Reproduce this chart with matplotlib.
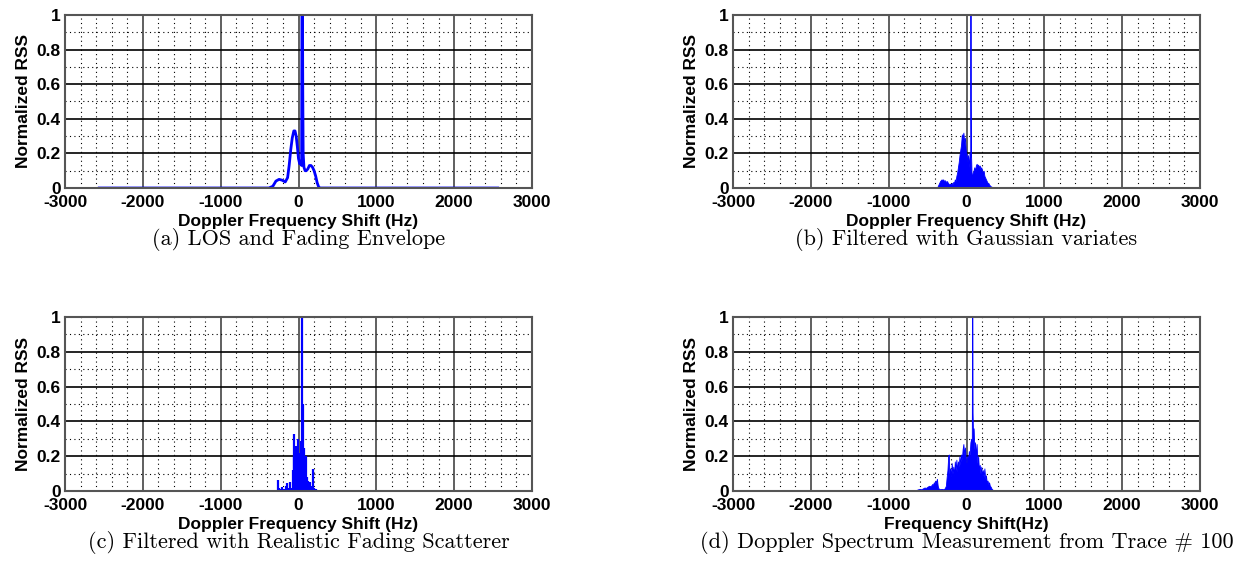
import matplotlib
matplotlib.use("Agg")
import matplotlib.pyplot as plt
import numpy as np
from matplotlib.ticker import MultipleLocator

# ---- data (Hz, normalized RSS) ----
freq_a = [-2560, -380, -330, -290, -250, -210, -170, -140, -120, -100, -80, -60, -45,
          -30, -15, 0, 15, 30, 40, 45, 50, 55, 60, 70, 85, 100, 120, 140, 160, 180,
          200, 220, 240, 260, 280, 2560]
rss_a = [0, 0, 0.01, 0.04, 0.05, 0.045, 0.035, 0.06, 0.13, 0.22, 0.29, 0.33, 0.33,
         0.30, 0.24, 0.17, 0.14, 0.15, 0.13, 1.2, 1.2, 0.55, 0.2, 0.12, 0.10, 0.10,
         0.11, 0.13, 0.13, 0.12, 0.10, 0.07, 0.03, 0.005, 0, 0]

freq_b = [-380, -370, -360, -350, -340, -330, -320, -310, -300, -290, -280, -270, -260,
          -250, -240, -230, -220, -210, -200, -190, -180, -170, -160, -150, -140, -130,
          -120, -110, -100, -90, -80, -70, -60, -50, -40, -30, -20, -10, 0, 10, 20, 30,
          40, 48, 50, 52, 54, 58, 65, 70, 80, 90, 100, 110, 120, 130, 140, 150, 160,
          170, 180, 190, 200, 210, 220, 230, 240, 250, 260, 270, 280, 290, 300, 310,
          320, 330, 340]
rss_b = [0, 0.01, 0.02, 0.03, 0.04, 0.045, 0.05, 0.045, 0.05, 0.04, 0.045, 0.04, 0.035,
         0.04, 0.03, 0.025, 0.02, 0.025, 0.02, 0.03, 0.02, 0.035, 0.03, 0.05, 0.04, 0.07,
         0.09, 0.12, 0.15, 0.19, 0.22, 0.25, 0.31, 0.29, 0.32, 0.27, 0.29, 0.22, 0.2,
         0.15, 0.19, 0.12, 0.2, 0.18, 1.2, 1.2, 0.5, 0.2, 0.08, 0.06, 0.09, 0.1, 0.12,
         0.1, 0.13, 0.14, 0.13, 0.135, 0.12, 0.13, 0.11, 0.12, 0.1, 0.09, 0.1, 0.07,
         0.06, 0.05, 0.04, 0.03, 0.03, 0.02, 0.015, 0.01, 0.008, 0.005, 0.0]

freq_c = [-262, -250, -235, -215, -190, -160, -150, -120, -105, -90, -75, -62, -54, -45,
          -32, -22, -10, 0, 10, 20, 28, 38, 50, 58, 66, 75, 85, 97, 110, 127, 148, 165,
          191, 205, 220]
rss_c = [0.065, 0.02, 0.01, 0.025, 0.01, 0.03, 0.045, 0.02, 0.05, 0.015, 0.12, 0.2, 0.33,
         0.1, 0.26, 0.15, 0.30, 0.1, 0.22, 0.12, 0.29, 0.18, 1.2, 0.5, 0.15, 0.245, 0.1,
         0.2, 0.08, 0.06, 0.05, 0.03, 0.125, 0.02, 0.01]
base_c = [-270, 270]

freq_d = [-700, -650, -620, -600, -580, -560, -540, -520, -500, -480, -460, -440, -430,
          -420, -410, -400, -390, -380, -370, -360, -340, -320, -300, -280, -265, -255,
          -245, -235, -228, -220, -210, -200, -190, -180, -170, -160, -150, -140, -130,
          -120, -110, -100, -90, -80, -70, -60, -50, -40, -30, -20, -10, 0, 10, 20, 30,
          40, 50, 60, 68, 72, 75, 78, 85, 92, 100, 110, 120, 130, 140, 150, 160, 170,
          180, 190, 200, 210, 220, 230, 240, 250, 260, 270, 280, 290, 300, 310, 320,
          330, 340, 350]
rss_d = [0, 0.005, 0.01, 0.012, 0.01, 0.015, 0.02, 0.018, 0.025, 0.03, 0.028, 0.04, 0.035,
         0.05, 0.045, 0.06, 0.05, 0.07, 0.03, 0.015, 0.01, 0.012, 0.01, 0.015, 0.03, 0.08,
         0.12, 0.2, 0.21, 0.1, 0.13, 0.08, 0.16, 0.1, 0.14, 0.09, 0.17, 0.12, 0.18, 0.11,
         0.17, 0.14, 0.2, 0.15, 0.21, 0.18, 0.24, 0.27, 0.21, 0.25, 0.19, 0.16, 0.2, 0.18,
         0.23, 0.2, 0.28, 0.3, 0.25, 1.2, 1.2, 0.45, 0.3, 0.36, 0.24, 0.28, 0.2, 0.27,
         0.16, 0.2, 0.12, 0.15, 0.1, 0.14, 0.09, 0.12, 0.08, 0.13, 0.07, 0.09, 0.05, 0.06,
         0.04, 0.05, 0.03, 0.025, 0.015, 0.01, 0.005, 0]
base_d = [-2720, 2400]

xticks = [-3000, -2000, -1000, 0, 1000, 2000, 3000]
yticks = [0, 0.2, 0.4, 0.6, 0.8, 1]
ytick_labels = ["0", "0.2", "0.4", "0.6", "0.8", "1"]

captions = ["(a) LOS and Fading Envelope",
            "(b) Filtered with Gaussian variates",
            "(c) Filtered with Realistic Fading Scatterer",
            "(d) Doppler Spectrum Measurement from Trace # 100"]
xlabels = ["Doppler Frequency Shift (Hz)", "Doppler Frequency Shift (Hz)",
           "Doppler Frequency Shift (Hz)", "Frequency Shift(Hz)"]

BLUE = "#0000ff"
TICKFONT = dict(family="Liberation Sans", weight="bold", size=12.5)

fig = plt.figure(figsize=(12.6, 5.72), dpi=100)

# axes boxes in pixels: left, top, right, bottom
boxes = [(65, 15, 532, 188), (733, 15, 1200, 188),
         (65, 317, 532, 491), (733, 317, 1200, 491)]
axes = []
for (l, t, r, b) in boxes:
    ax = fig.add_axes([l / 1260, 1 - b / 572, (r - l) / 1260, (b - t) / 572])
    axes.append(ax)


def style(ax, xlabel, caption):
    ax.set_xlim(-3000, 3000)
    ax.set_ylim(0, 1)
    ax.set_xticks(xticks)
    ax.set_xticklabels([str(v) for v in xticks], fontdict=TICKFONT)
    ax.set_yticks(yticks)
    ax.set_yticklabels(ytick_labels, fontdict=TICKFONT)
    ax.xaxis.set_minor_locator(MultipleLocator(200))
    ax.yaxis.set_minor_locator(MultipleLocator(0.1))
    ax.tick_params(which="both", direction="in", length=0)
    ax.tick_params(axis="x", pad=5)
    ax.tick_params(axis="y", pad=3)
    ax.grid(which="minor", color="black", linestyle=(0, (1, 3)), linewidth=0.8)
    ax.grid(which="major", axis="y", color="black", linewidth=1.2)
    ax.grid(which="major", axis="x", color="#444444", linewidth=1.2)
    ax.set_axisbelow(True)
    for sp in ax.spines.values():
        sp.set_color("#555555")
        sp.set_linewidth(1.5)
    ax.set_xlabel(xlabel, fontdict=TICKFONT, labelpad=3)
    ax.set_ylabel("Normalized RSS", fontdict=TICKFONT, labelpad=4)
    ax.text(0.5, -0.295, caption, transform=ax.transAxes, ha="center", va="center",
            family="cmr10", size=16)


ax = axes[0]
ax.plot(freq_a, rss_a, color=BLUE, linewidth=2)

ax = axes[1]
ax.fill_between(freq_b, 0, rss_b, color=BLUE, linewidth=0.6)

ax = axes[2]
ax.plot(base_c, [0, 0], color=BLUE, linewidth=1.2)
ax.vlines(freq_c, 0, rss_c, color=BLUE, linewidth=1.6)

ax = axes[3]
ax.plot(base_d, [0, 0], color=BLUE, linewidth=2)
ax.fill_between(freq_d, 0, rss_d, color=BLUE, linewidth=0.6)

for ax, xl, cap in zip(axes, xlabels, captions):
    style(ax, xl, cap)

fig.savefig("out.png", dpi=100)
